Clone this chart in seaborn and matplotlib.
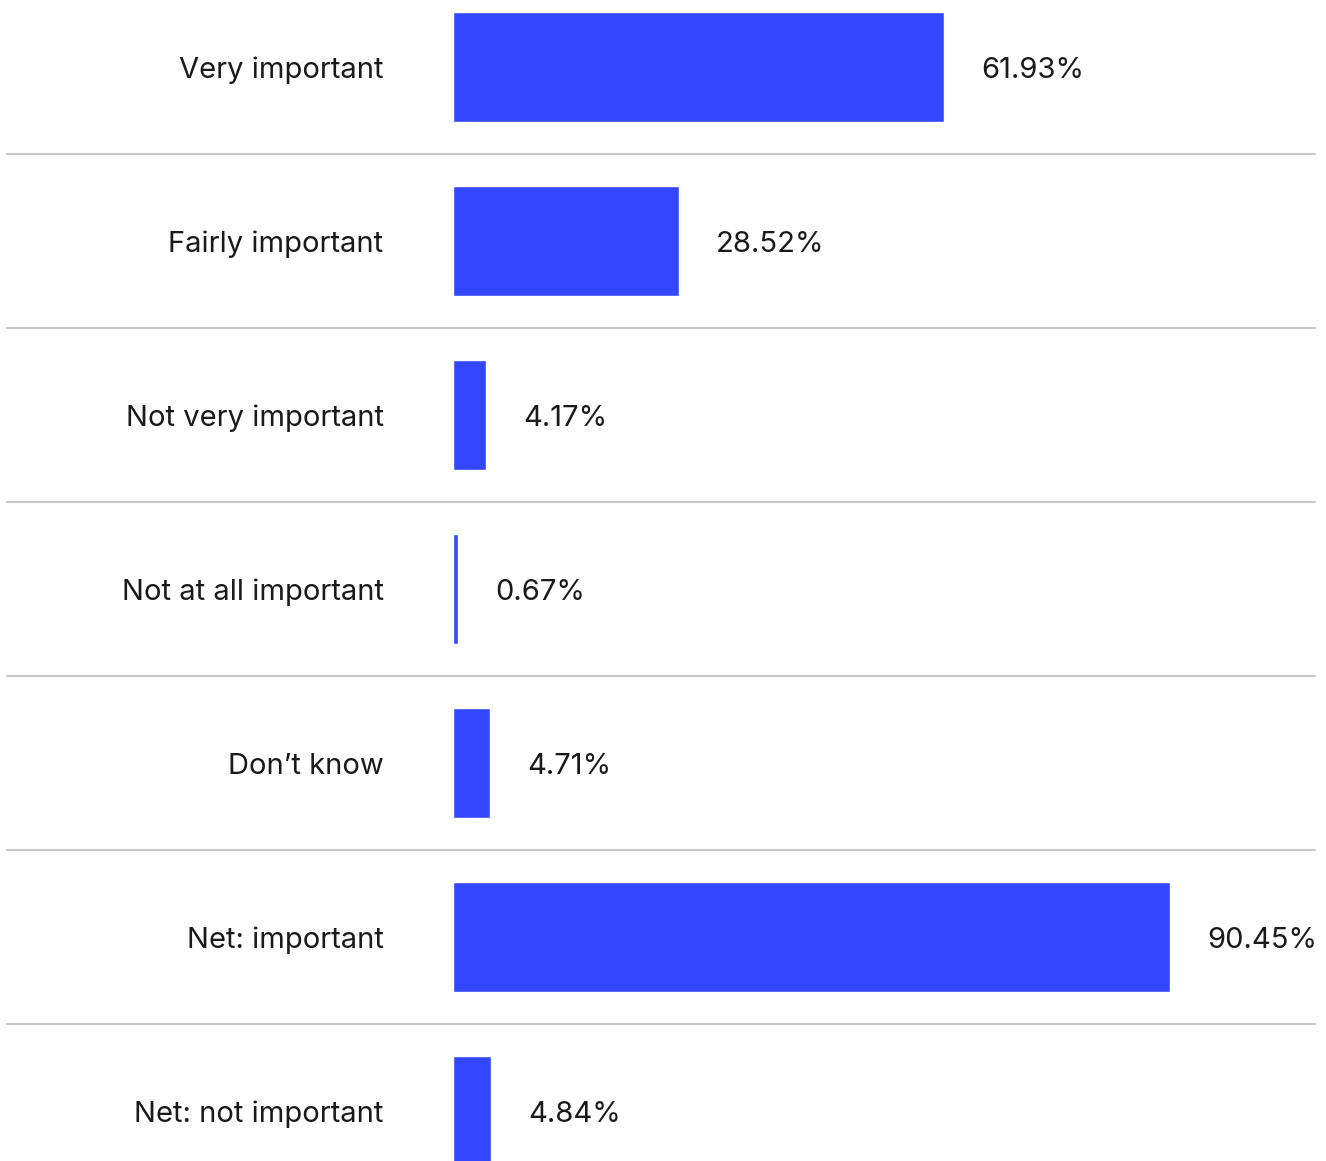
import matplotlib
matplotlib.use("Agg")
import matplotlib.pyplot as plt
import pandas as pd
import seaborn as sns

categories = ["Very important", "Fairly important", "Not very important",
              "Not at all important", "Don\u2019t know", "Net: important",
              "Net: not important"]
values = [61.93, 28.52, 4.17, 0.67, 4.71, 90.45, 4.84]

sns.set_theme(style="white")
plt.rcParams['font.family'] = ['Inter', 'DejaVu Sans']

df = pd.DataFrame({"category": categories, "value": values})

W, H = 1326, 1161
fig = plt.figure(figsize=(W / 100, H / 100), dpi=100)
# axes start where the bars start (x=453px), full height
ax = fig.add_axes([453 / W, 0, 1 - 453 / W, 1])

sns.barplot(data=df, x="value", y="category", orient="h", color="#3347ff",
            saturation=1, width=0.63, ax=ax)

# 7.93 px per percent
ax.set_xlim(0, (W - 453) / 7.93)
row = 174
ax.set_ylim((H - 67) / row, -67 / row)

for s in ax.spines.values():
    s.set_visible(False)
ax.set_xticks([])
ax.set_xlabel("")
ax.set_ylabel("")
ax.tick_params(axis="y", length=0, pad=50, labelsize=21, labelcolor="#1a1a1a")
for t in ax.get_yticklabels():
    t.set_verticalalignment("center_baseline")

# separators
axw = W - 453
for i in range(len(categories) - 1):
    ax.axhline(i + 0.5, xmin=(7 - 453) / axw, xmax=(1315 - 453) / axw,
               color="#c8c8c8", lw=1.5, clip_on=False)

for i, v in enumerate(values):
    ax.text(v + 37 / 7.93, i, f"{v:.2f}%", va="center_baseline", ha="left",
            fontsize=21, color="#1a1a1a")

fig.savefig("out.png", dpi=100)
